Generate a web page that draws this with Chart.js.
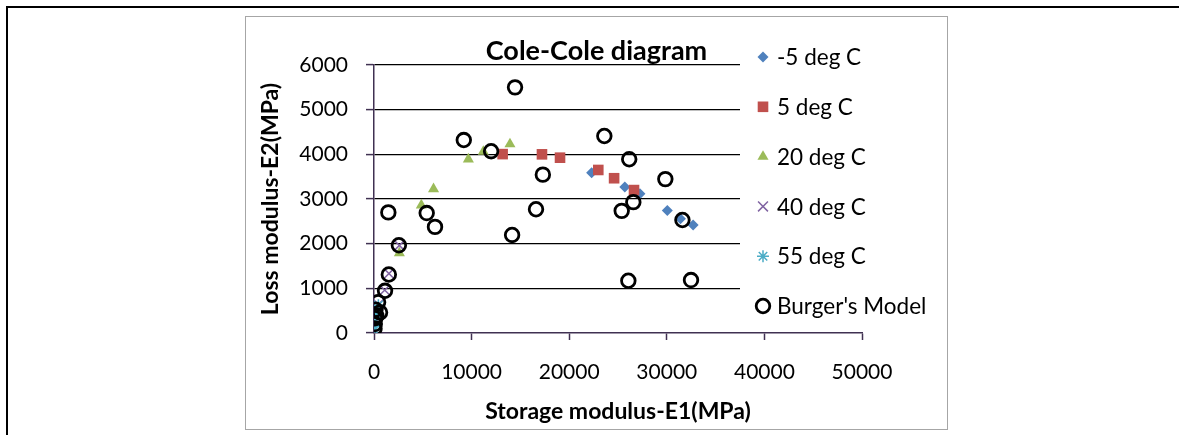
<!DOCTYPE html>
<html>
<head>
<meta charset="utf-8">
<script src="https://cdn.jsdelivr.net/npm/chart.js@4.4.0/dist/chart.umd.min.js"></script>
<style>
  html, body { margin: 0; padding: 0; background: #fff; }
  body { width: 1179px; height: 435px; position: relative; overflow: hidden; }
  #frame { position: absolute; left: 6px; top: 6px; width: 1220px; height: 480px; border-top: 2px solid #000; border-left: 2px solid #000; }
  #box { position: absolute; left: 245px; top: 16px; width: 701px; height: 412px; border: 1px solid #a6a6a6; background: #fff; }
  #chart { display: block; }
</style>
</head>
<body>
<div id="frame"></div>
<div id="box"><canvas id="chart" width="701" height="412"></canvas></div>
<script>
// values: storage modulus E1 (x) and loss modulus E2 (y), MPa
const minus5X = [22300, 25700, 27250, 30050, 31400, 32700];
const minus5Y = [3590, 3270, 3120, 2740, 2560, 2420];

const plus5X = [13180, 17210, 19060, 22980, 24600, 26640];
const plus5Y = [4005, 4000, 3925, 3650, 3465, 3200];

const deg20X = [13930, 11200, 9670, 6100, 4850, 2600];
const deg20Y = [4230, 4060, 3890, 3225, 2860, 1790];

const deg40X = [2600, 1530, 1100, 450, 250, 120];
const deg40Y = [1960, 1330, 960, 640, 420, 250];

const deg55X = [450, 250, 120, 60, 30];
const deg55Y = [620, 420, 260, 140, 70];

const burgerX = [14450, 9200, 12000, 17300, 16600, 14150, 23600, 26150, 26570, 25380, 29850, 31600, 26060, 32480,
  1470, 5400, 6250, 2550, 1520, 1130, 420, 150, 620, 100, 250, 80, 50];
const burgerY = [5500, 4320, 4070, 3545, 2770, 2195, 4410, 3890, 2930, 2735, 3445, 2530, 1170, 1185,
  2700, 2685, 2375, 1965, 1310, 945, 690, 520, 460, 330, 380, 200, 100];

const xTickValues = [0, 10000, 20000, 30000, 40000, 50000];
const yTickValues = [0, 1000, 2000, 3000, 4000, 5000, 6000];

const FONT = 'Lato, "Liberation Sans", sans-serif';
const AXIS_COLOR = '#403152';

const toPoints = (xs, ys) => xs.map((x, i) => ({ x: x, y: ys[i] }));

// Excel-style legend that sits over the right side of the plot
const sideLegend = {
  id: 'sideLegend',
  afterDraw: (chart) => {
    const ctx = chart.ctx;
    const left = 494, top = 14, rowGap = 49.8, markX = 517, textX = 531, firstRow = 40;
    ctx.save();
    ctx.fillStyle = '#fff';
    ctx.fillRect(left, top, chart.width - left, 300);
    const order = [...chart.data.datasets].sort((a, b) => a.legendIndex - b.legendIndex);
    order.forEach((ds, i) => {
      const y = firstRow + i * rowGap;
      ctx.fillStyle = ds.backgroundColor;
      ctx.strokeStyle = ds.borderColor;
      ctx.lineWidth = ds.pointBorderWidth;
      Chart.helpers.drawPoint(ctx, {
        pointStyle: ds.pointStyle,
        radius: ds.pointRadius,
        rotation: 0,
        borderWidth: ds.pointBorderWidth
      }, markX, y);
      ctx.fillStyle = '#000';
      ctx.font = '22.5px ' + FONT;
      ctx.textAlign = 'left';
      ctx.textBaseline = 'middle';
      ctx.fillText(ds.label, textX, y + 1);
    });
    ctx.restore();
  }
};

const datasets = [
  { label: '-5 deg C', data: toPoints(minus5X, minus5Y), pointStyle: 'rectRot', pointRadius: 5.5,
    backgroundColor: '#4F81BD', borderColor: '#4F81BD', pointBorderWidth: 0, order: 5, legendIndex: 0 },
  { label: '5 deg C', data: toPoints(plus5X, plus5Y), pointStyle: 'rect', pointRadius: 7.5,
    backgroundColor: '#C0504D', borderColor: '#C0504D', pointBorderWidth: 0, order: 4, legendIndex: 1 },
  { label: '20 deg C', data: toPoints(deg20X, deg20Y), pointStyle: 'triangle', pointRadius: 6.4,
    backgroundColor: '#9BBB59', borderColor: '#9BBB59', pointBorderWidth: 0, order: 3, legendIndex: 2 },
  { label: '40 deg C', data: toPoints(deg40X, deg40Y), pointStyle: 'crossRot', pointRadius: 7,
    backgroundColor: '#8064A2', borderColor: '#8064A2', pointBorderWidth: 1.5, order: 2, legendIndex: 3 },
  { label: '55 deg C', data: toPoints(deg55X, deg55Y), pointStyle: 'star', pointRadius: 6,
    backgroundColor: '#4BACC6', borderColor: '#4BACC6', pointBorderWidth: 1.5, order: 1, legendIndex: 4 },
  { label: "Burger's Model", data: toPoints(burgerX, burgerY), pointStyle: 'circle', pointRadius: 6.8,
    backgroundColor: 'rgba(0,0,0,0)', borderColor: '#000', pointBorderWidth: 2.8, order: 0, legendIndex: 5 }
];

new Chart(document.getElementById('chart'), {
  type: 'scatter',
  data: { datasets: datasets },
  plugins: [sideLegend],
  options: {
    responsive: false,
    animation: false,
    events: [],
    layout: { padding: 0 },
    plugins: {
      legend: { display: false },
      tooltip: { enabled: false },
      title: {
        display: true,
        text: 'Cole-Cole diagram',
        color: '#000',
        font: { family: FONT, size: 27, weight: 'bold', lineHeight: 1 },
        padding: { top: 21, bottom: 0 }
      }
    },
    scales: {
      x: {
        type: 'linear',
        position: 'bottom',
        min: 0,
        max: 50000,
        afterBuildTicks: s => { s.ticks = xTickValues.map(v => ({ value: v })); },
        afterFit: s => { s.height = 96; },
        border: { color: AXIS_COLOR, width: 1.5 },
        grid: { drawOnChartArea: false, drawTicks: true, tickLength: 7, tickColor: AXIS_COLOR, tickWidth: 1.5 },
        ticks: { color: '#000', font: { family: FONT, size: 21 }, padding: 20, maxRotation: 0, callback: v => String(v) },
        title: {
          display: true,
          text: 'Storage modulus-E1(MPa)',
          color: '#000',
          font: { family: FONT, size: 23, weight: 'bold' },
          padding: { top: 0, bottom: 4 }
        }
      },
      y: {
        type: 'linear',
        position: 'left',
        min: 0,
        max: 6000,
        afterBuildTicks: s => { s.ticks = yTickValues.map(v => ({ value: v })); },
        afterFit: s => { s.width = 128; },
        border: { color: AXIS_COLOR, width: 1.5 },
        grid: {
          color: c => (c.tick && c.tick.value === 0) ? 'rgba(0,0,0,0)' : '#000',
          lineWidth: 1.2,
          tickLength: 8,
          tickColor: AXIS_COLOR,
          tickWidth: 1.5
        },
        ticks: { color: '#000', font: { family: FONT, size: 21 }, padding: 18, callback: v => String(v) },
        title: {
          display: true,
          text: 'Loss modulus-E2(MPa)',
          color: '#000',
          font: { family: FONT, size: 23, weight: 'bold' },
          padding: { top: 11, bottom: 0 }
        }
      },
      spacer: {
        type: 'linear',
        position: 'right',
        min: 0,
        max: 1,
        afterFit: s => { s.width = 85; },
        border: { display: false },
        grid: { display: false },
        ticks: { display: false }
      }
    }
  }
});
</script>
</body>
</html>
